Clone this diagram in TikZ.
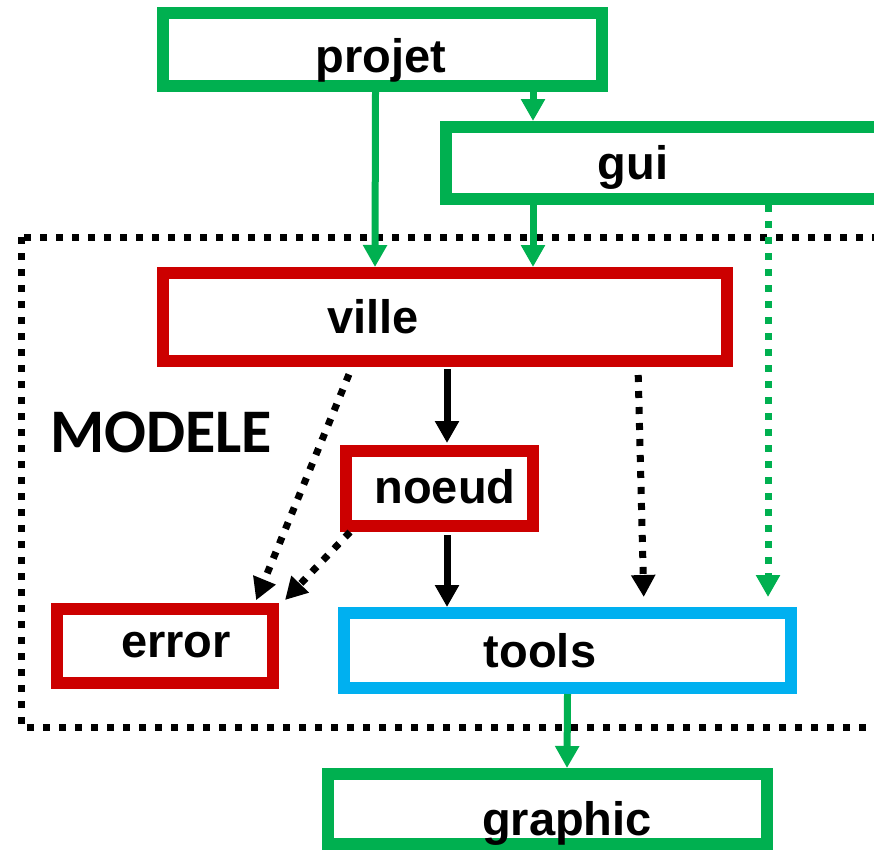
\documentclass[tikz,border=0pt]{standalone}
\usepackage{fontspec}
\setmainfont{Liberation Sans}
\newfontfamily\modelefont{Carlito}
\usepackage{xcolor}
\definecolor{pkggreen}{RGB}{0, 176, 80}
\definecolor{pkgred}{RGB}{204, 0, 0}
\definecolor{pkgblue}{RGB}{0, 176, 240}
\usetikzlibrary{positioning, arrows.meta}
\tikzset{
    pkgbox/.style={
        draw,
        line width=12pt,
        fill=white,
        inner sep=0pt
    },
    pkgname/.style={
        anchor=base,
        inner sep=0pt,
        font=\fontsize{47}{50}\selectfont\bfseries
    },
    deparrow/.style={
        line width=7pt,
        -{Triangle[length=22pt,width=23pt]}
    },
    weakdep/.style={
        deparrow,
        dash pattern=on 7pt off 9pt
    }
}

\begin{document}
\begin{tikzpicture}[x=1pt, y=-1pt]

\useasboundingbox (0,0) rectangle (874,851);
\clip (0,0) rectangle (874,851);

% ---------------------------------------------------------
% Model frame
% ---------------------------------------------------------

\draw[line width=7pt, dash pattern=on 7pt off 9pt] (21,237) rectangle (920,727);
\node[anchor=base west, inner sep=0pt, font=\modelefont\fontsize{62}{64}\selectfont\bfseries] (modele) at (50,452) {MODELE};

% ---------------------------------------------------------
% Packages
% ---------------------------------------------------------

% top: projet and gui
\node[pkgbox, draw=pkggreen, minimum width=439pt, minimum height=73pt] (projet) at (382.5,49.5) {};
\node[pkgname] (projettext) at (381,72) {projet};

\node[pkgbox, draw=pkggreen, minimum width=460pt, minimum height=72pt] (gui) at (676,163) {};
\node[pkgname] (guitext) at (633,179) {gui};

% model: ville, noeud, error, tools
\node[pkgbox, draw=pkgred, minimum width=564pt, minimum height=88pt] (ville) at (445,317) {};
\node[pkgname] (villetext) at (373,333) {ville};

\node[pkgbox, draw=pkgred, minimum width=187pt, minimum height=75pt] (noeud) at (439.5,488.5) {};
\node[pkgname] (noeudtext) at (445,503) {noeud};

\node[pkgbox, draw=pkgred, minimum width=216pt, minimum height=74pt] (error) at (165,646) {};
\node[pkgname] (errortext) at (176,657) {error};

\node[pkgbox, draw=pkgblue, minimum width=447pt, minimum height=75pt] (tools) at (567.5,650.5) {};
\node[pkgname] (toolstext) at (540,667) {tools};

% bottom: graphic
\node[pkgbox, draw=pkggreen, minimum width=439pt, minimum height=70pt] (graphic) at (547.5,809) {};
\node[pkgname] (graphictext) at (567,835) {graphic};

% ---------------------------------------------------------
% Dependencies
% ---------------------------------------------------------

% green: outside the model
\draw[deparrow, pkggreen] ([xshift=-7pt]projet.south) -- ([xshift=-70pt]ville.north);
\draw[deparrow, pkggreen] ([xshift=150.5pt]projet.south) -- ([xshift=-143pt]gui.north);
\draw[deparrow, pkggreen] ([xshift=-143pt]gui.south) -- ([xshift=88pt]ville.north);
\draw[weakdep, pkggreen, shorten >=10pt] ([xshift=92pt]gui.south) -- ([xshift=200.5pt]tools.north);
\draw[deparrow, pkggreen] (tools.south) -- ([xshift=19.5pt]graphic.north);

% black: inside the model
\draw[deparrow, shorten <=2pt, shorten >=2pt] ([xshift=2pt]ville.south) -- ([xshift=7.5pt]noeud.north);
\draw[deparrow, shorten <=3pt] ([xshift=7.5pt]noeud.south) -- ([xshift=-120.5pt]tools.north);
\draw[weakdep, shorten <=8pt, shorten >=10pt] ([xshift=193pt]ville.south) -- ([xshift=76.5pt]tools.north);
\draw[weakdep, shorten <=8pt, shorten >=3pt] ([xshift=-93pt]ville.south) -- ([xshift=90pt]error.north);
\draw[weakdep] ([xshift=10pt]noeud.south west) -- ([xshift=6pt,yshift=3pt]error.north east);

\end{tikzpicture}
\end{document}
